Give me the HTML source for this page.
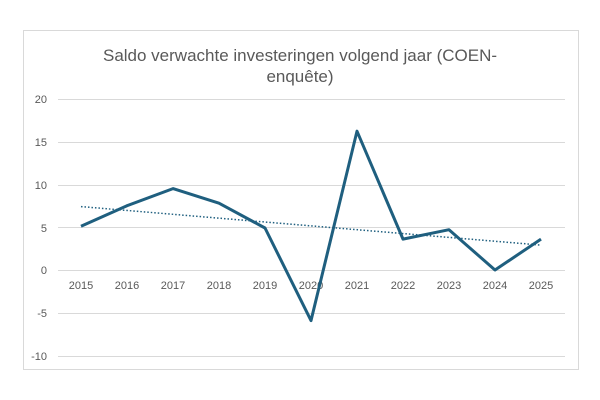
<!DOCTYPE html>
<html><head><meta charset="utf-8"><style>
body{margin:0;background:#fff;}
svg{display:block;font-family:"Liberation Sans",sans-serif;}
</style></head><body>
<svg width="600" height="400" viewBox="0 0 600 400">
<rect x="23.5" y="30.5" width="555" height="339" fill="#fff" stroke="#d9d9d9"/>
<text x="300" y="61" font-size="17" fill="#595959" text-anchor="middle">Saldo verwachte investeringen volgend jaar (COEN-</text>
<text x="300" y="82" font-size="17" fill="#595959" text-anchor="middle">enquête)</text>
<g stroke="#d9d9d9" stroke-width="1">
<line x1="58" x2="565" y1="99.5" y2="99.5"/>
<line x1="58" x2="565" y1="142.5" y2="142.5"/>
<line x1="58" x2="565" y1="185.5" y2="185.5"/>
<line x1="58" x2="565" y1="227.5" y2="227.5"/>
<line x1="58" x2="565" y1="270.5" y2="270.5"/>
<line x1="58" x2="565" y1="313.5" y2="313.5"/>
<line x1="58" x2="565" y1="356.5" y2="356.5"/>
</g>
<g font-size="11" fill="#595959" text-anchor="end">
<text x="47" y="103">20</text><text x="47" y="146">15</text><text x="47" y="189">10</text>
<text x="47" y="232">5</text><text x="47" y="274">0</text><text x="47" y="317">-5</text><text x="47" y="360">-10</text>
</g>
<g font-size="11" fill="#595959" text-anchor="middle">
<text x="81" y="289">2015</text><text x="127" y="289">2016</text><text x="173" y="289">2017</text>
<text x="219" y="289">2018</text><text x="265" y="289">2019</text><text x="311" y="289">2020</text>
<text x="357" y="289">2021</text><text x="403" y="289">2022</text><text x="449" y="289">2023</text>
<text x="495" y="289">2024</text><text x="541" y="289">2025</text>
</g>
<polyline fill="none" stroke="#1f5f7f" stroke-width="3" stroke-linejoin="round" points="81,226.3 127,205.7 173,188.6 219,203.2 265,228 311,320.6 357,131.2 403,239.1 449,229.7 495,270 541,239.1"/>
<line x1="81" y1="206.6" x2="541" y2="245.1" stroke="#1f5f7f" stroke-width="1.5" stroke-dasharray="1.5 2"/>
</svg>
</body></html>
